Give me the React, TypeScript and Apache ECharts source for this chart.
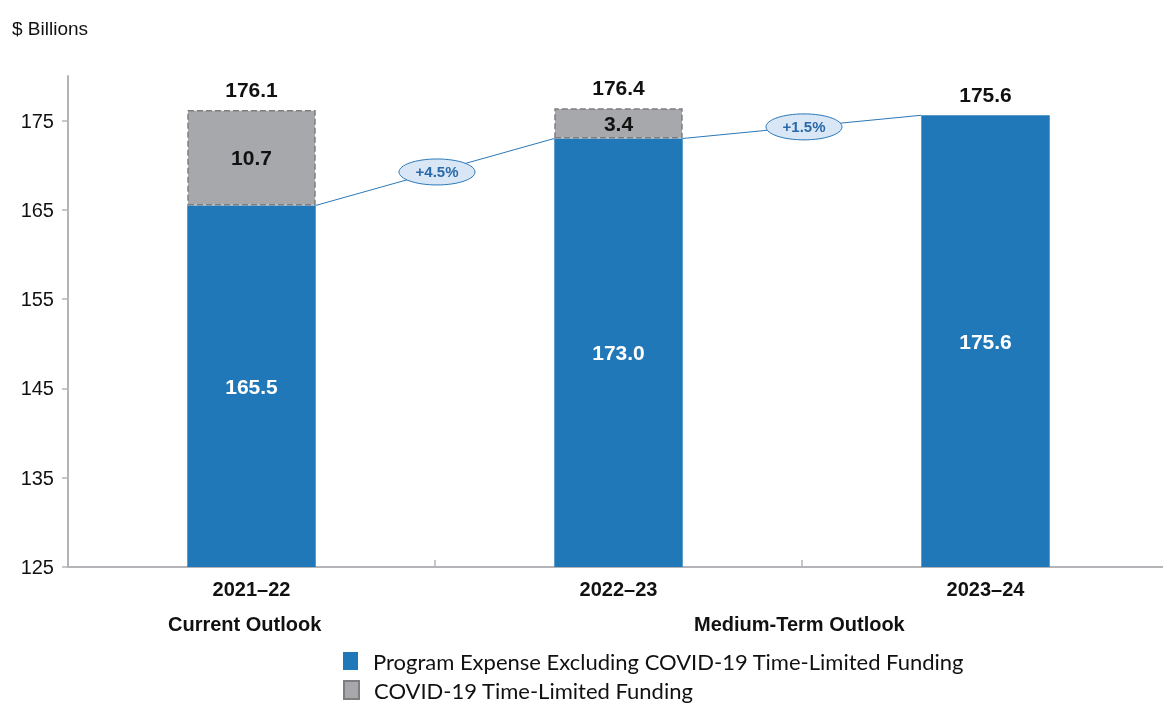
import React, { useEffect, useRef } from "react";
import * as echarts from "echarts";

const categories = ["2021–22", "2022–23", "2023–24"];
const programExpense = [165.5, 173.0, 175.6];
const covidFunding = [10.7, 3.4, null];
const totals = [176.1, 176.4, 175.6];
const growthLabels = ["+4.5%", "+1.5%"];
const yTicks = [125, 135, 145, 155, 165, 175];
const periodLabels = ["Current Outlook", "Medium-Term Outlook"];
const seriesNames = ["Program Expense Excluding COVID-19 Time-Limited Funding", "COVID-19 Time-Limited Funding"];

const NARROW = "'Liberation Sans Narrow', 'Arial Narrow', 'Liberation Sans', Arial, sans-serif";
const LEG = "Lato, 'Open Sans', sans-serif";

export default function App() {
  const ref = useRef<HTMLDivElement>(null);
  useEffect(() => {
    if (!ref.current) return;
    const chart = echarts.init(ref.current, null, { renderer: "svg" });
    const segData = programExpense.slice(0, -1).map((v, i) => [i, v, programExpense[i + 1]]);
    const legendBase = {
      left: 338,
      itemWidth: 15,
      itemHeight: 18,
      icon: "rect",
      textStyle: { fontFamily: LEG, fontSize: 22, color: "#111", padding: [0, 0, 0, 10] },
    };
    chart.setOption({
      animation: false,
      title: {
        text: "$ Billions",
        left: 7,
        top: 14,
        textStyle: { fontFamily: NARROW, fontSize: 19, fontWeight: "normal", color: "#111" },
      },
      legend: [
        { ...legendBase, data: [seriesNames[0]], top: 645 },
        { ...legendBase, data: [seriesNames[1]], top: 674 },
      ],
      grid: { left: 68, right: 11, top: 76, bottom: 137 },
      xAxis: {
        type: "category",
        data: categories,
        axisLine: { lineStyle: { color: "#b4b4b8", width: 2 } },
        axisTick: { show: true, inside: true, length: 7, lineStyle: { color: "#b4b4b8", width: 1.5 } },
        axisLabel: { margin: 12, fontFamily: NARROW, fontSize: 20, fontWeight: "bold", color: "#111" },
      },
      yAxis: {
        type: "value",
        min: 125,
        max: 180,
        axisLine: { show: true, lineStyle: { color: "#b4b4b8", width: 2 } },
        axisTick: { show: true, length: 6, customValues: yTicks, lineStyle: { color: "#b4b4b8", width: 1.5 } },
        axisLabel: { customValues: yTicks, margin: 14, fontFamily: NARROW, fontSize: 20, color: "#111" },
        splitLine: { show: false },
      },
      graphic: [
        {
          type: "text",
          left: 248 - 80,
          top: 614,
          style: { text: periodLabels[0], font: `bold 20px ${NARROW}`, fill: "#111", width: 160, align: "center" },
        },
        {
          type: "text",
          left: 804 - 110,
          top: 614,
          style: { text: periodLabels[1], font: `bold 20px ${NARROW}`, fill: "#111", width: 220, align: "center" },
        },
      ],
      series: [
        {
          name: seriesNames[0],
          type: "bar",
          stack: "total",
          barWidth: "35%",
          data: programExpense,
          itemStyle: { color: "#2178b8" },
          label: {
            show: true,
            position: "inside",
            formatter: (p: any) => Number(p.value).toFixed(1),
            fontFamily: NARROW,
            fontSize: 21,
            fontWeight: "bold",
            color: "#fff",
          },
        },
        {
          name: seriesNames[1],
          type: "bar",
          stack: "total",
          barWidth: "35%",
          data: covidFunding,
          itemStyle: { color: "#a7a8ab", borderColor: "#7e7e80", borderWidth: 1.5, borderType: "dashed" },
          label: {
            show: true,
            position: "inside",
            formatter: (p: any) => Number(p.value).toFixed(1),
            fontFamily: NARROW,
            fontSize: 21,
            fontWeight: "bold",
            color: "#111",
          },
        },
        {
          name: "totals",
          type: "bar",
          stack: "total",
          barWidth: "35%",
          data: totals.map(() => 0),
          itemStyle: { color: "rgba(0,0,0,0)" },
          label: {
            show: true,
            position: "top",
            distance: 10,
            formatter: (p: any) => totals[p.dataIndex].toFixed(1),
            fontFamily: NARROW,
            fontSize: 21,
            fontWeight: "bold",
            color: "#111",
          },
        },
        {
          name: "growth",
          type: "custom",
          data: segData,
          encode: { x: 0, y: 1 },
          z: 6,
          renderItem: (params: any, api: any) => {
            const i = api.value(0);
            const a = api.value(1);
            const b = api.value(2);
            const p1 = api.coord([i, a]);
            const p2 = api.coord([i + 1, b]);
            const bw = api.size([1, 0])[0];
            const hw = (bw * 0.35) / 2;
            const x1 = p1[0] + hw;
            const y1 = p1[1];
            const x2 = p2[0] - hw;
            const y2 = p2[1];
            const mx = (x1 + x2) / 2 + 2;
            const my = (y1 + y2) / 2;
            return {
              type: "group",
              children: [
                { type: "line", shape: { x1, y1, x2, y2 }, style: { stroke: "#2a78b8", lineWidth: 1 } },
                {
                  type: "ellipse",
                  shape: { cx: mx, cy: my, rx: 38, ry: 13 },
                  style: { fill: "#d8e6f5", stroke: "#2a78b8", lineWidth: 1 },
                },
                {
                  type: "text",
                  x: mx,
                  y: my,
                  style: {
                    text: growthLabels[params.dataIndex],
                    align: "center",
                    verticalAlign: "middle",
                    font: `bold 15px ${NARROW}`,
                    fill: "#2b6aa9",
                  },
                },
              ],
            };
          },
        },
      ],
    });
    return () => chart.dispose();
  }, []);
  return (
    <div style={{ position: "fixed", left: 0, top: 0, width: 1163, height: 704, overflow: "hidden" }}>
      <div ref={ref} style={{ width: 1180, height: 704 }} />
    </div>
  );
}
